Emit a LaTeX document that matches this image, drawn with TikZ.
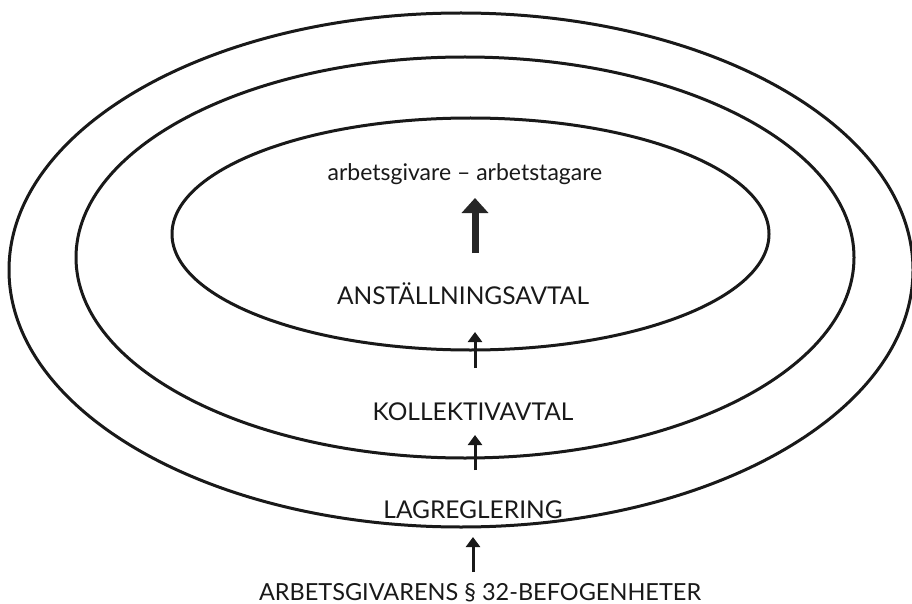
\documentclass[tikz,border=0pt]{standalone}
\usepackage{fontspec}
\setmainfont{Lato}
\usetikzlibrary{arrows.meta}
\tikzset{
  ring/.style={draw=black!90, line width=3pt},
  lbl/.style={anchor=base, inner sep=0pt, font=\fontsize{24.5}{28}\selectfont, text=black!90},
  lowlbl/.style={lbl, font=\fontsize{23}{26}\selectfont},
  bigarrow/.style={line width=7pt, draw=black!85, -{Triangle[width=26pt,length=15pt]}},
  smallarrow/.style={line width=3pt, draw=black!90, -{Triangle[width=14pt,length=10pt]}}
}
\begin{document}
\begin{tikzpicture}[x=1pt,y=-1pt]
\useasboundingbox (0,0) rectangle (912,604);
\clip (0,0) rectangle (912,604);
\fill[white] (0,0) rectangle (912,604);
% rings
\draw[ring] (461,270) ellipse [x radius=452, y radius=257];
\draw[ring] (465,257.5) ellipse [x radius=389, y radius=200.5];
\draw[ring] (470.5,234) ellipse [x radius=298.5, y radius=116];
% labels
\node[lowlbl] (par) at (465,180) {arbetsgivare – arbetstagare};
\node[lbl] (anst) at (463,304) {ANSTÄLLNINGSAVTAL};
\node[lbl] (koll) at (473,420) {KOLLEKTIVAVTAL};
\node[lbl] (lag) at (473,518) {LAGREGLERING};
\node[lbl, font=\fontsize{23.5}{27}\selectfont] (bef) at (480,600) {ARBETSGIVARENS § 32-BEFOGENHETER};
% arrow ends
\coordinate (a1s) at (475,253);
\coordinate (a1e) at (475,198);
\coordinate (a2s) at (475,368);
\coordinate (a2e) at (475,332);
\coordinate (a3s) at (475,470);
\coordinate (a3e) at (475,435);
\coordinate (a4s) at (473,572);
\coordinate (a4e) at (473,537);
\draw[bigarrow] (a1s) -- (a1e);
\draw[smallarrow] (a2s) -- (a2e);
\draw[smallarrow] (a3s) -- (a3e);
\draw[smallarrow] (a4s) -- (a4e);
\end{tikzpicture}
\end{document}
